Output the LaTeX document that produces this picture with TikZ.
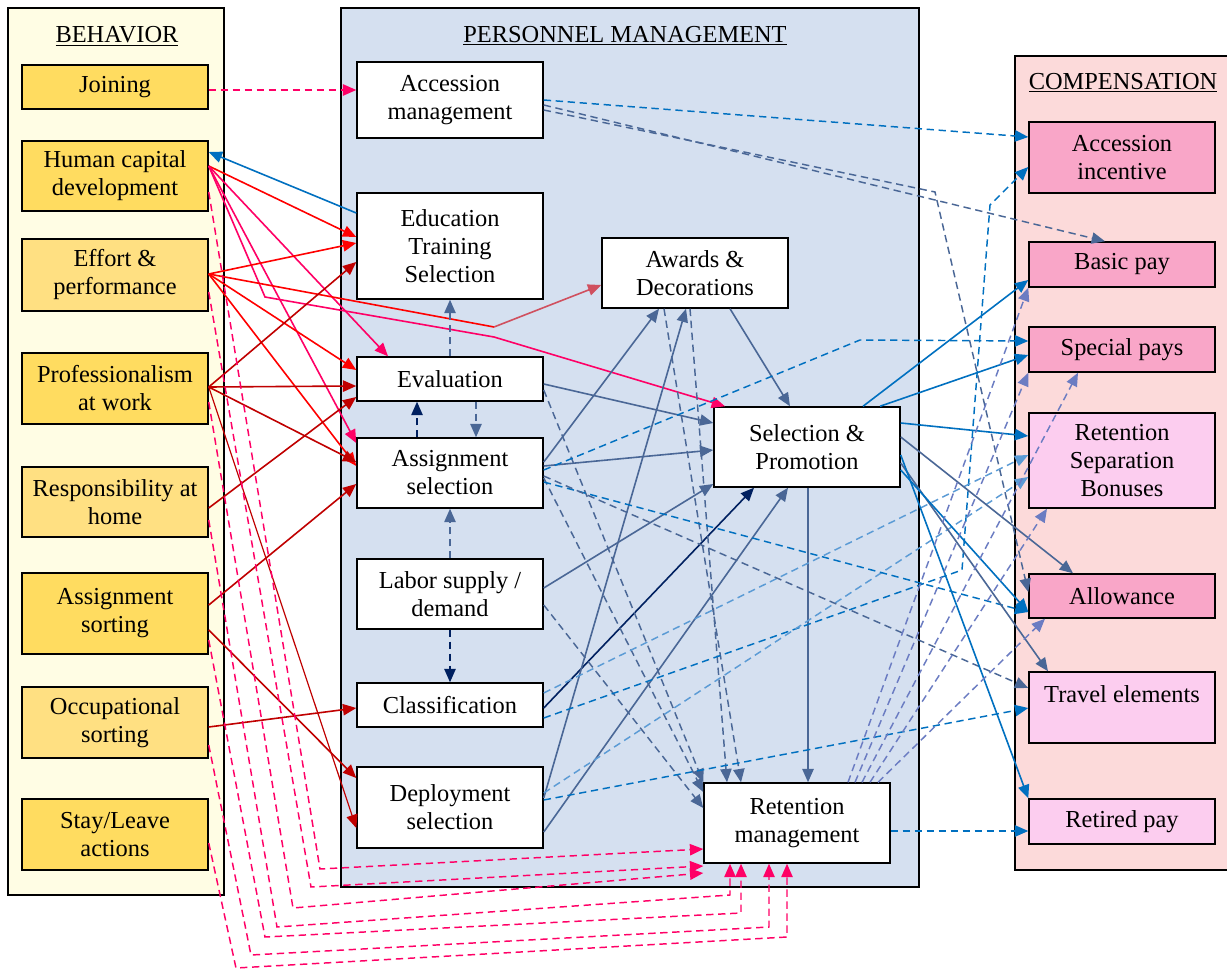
\documentclass[tikz,border=0pt]{standalone}
\usepackage{fontspec}
\setmainfont{Liberation Serif}
\usetikzlibrary{arrows.meta,calc}

\definecolor{behfill}{HTML}{FFFDE4}
\definecolor{goldA}{HTML}{FFDC60}
\definecolor{goldB}{HTML}{FFE082}
\definecolor{perfill}{HTML}{D5E0F0}
\definecolor{compfill}{HTML}{FCDADA}
\definecolor{pinkA}{HTML}{F9A6C8}
\definecolor{pinkB}{HTML}{FCCDEF}
\definecolor{magentaA}{HTML}{FF0066}
\definecolor{redA}{HTML}{FF0000}
\definecolor{redB}{HTML}{C00000}
\definecolor{roseA}{HTML}{D0505F}
\definecolor{blueA}{HTML}{0070C0}
\definecolor{steelA}{HTML}{4A6796}
\definecolor{navyA}{HTML}{002060}
\definecolor{lblueA}{HTML}{5B9BD5}
\definecolor{lavA}{HTML}{6B7CC2}

\tikzset{
  >={Triangle[length=10pt,width=8.5pt]},
  panel/.style={draw=black,line width=1.2pt},
  box/.style={draw=black,line width=1.1pt,align=center,inner sep=0pt,
    minimum width=139.5pt,font=\fontsize{18.3}{21}\selectfont},
  ttl/.style={font=\fontsize{18.3}{21}\selectfont},
  con/.style={line width=1.2pt,->},
  thin/.style={line width=0.9pt,->},
  dsh/.style={line width=1.1pt,->,dash pattern=on 5.5pt off 3.5pt},
}

\begin{document}
\begin{tikzpicture}[x=0.75pt,y=-0.75pt]
\useasboundingbox (0,0) rectangle (1227,970);

% ---------- panels ----------
\fill[white] (0,0) rectangle (1227,970);
\draw[panel,fill=behfill] (8,8) rectangle (224,895);
\draw[panel,fill=perfill] (341,8) rectangle (919,887);
\draw[panel,fill=compfill] (1015,56) rectangle (1232,870);

\node[ttl] (tbeh) at (117,36) {\underline{BEHAVIOR}};
\node[ttl] (tper) at (625,36) {\underline{PERSONNEL MANAGEMENT}};
\node[ttl] (tcomp) at (1123,83) {\underline{COMPENSATION}};

% ---------- behavior ----------
\node[box,fill=goldA,minimum height=33pt]    (join)  at (115,87)    {Joining};
\node[box,fill=goldA,minimum height=52.5pt]  (hcd)   at (115,176)   {Human capital\\development};
\node[box,fill=goldB,minimum height=54pt]    (eff)   at (115,275)   {Effort \&\\performance};
\node[box,fill=goldA,minimum height=53.25pt] (prof)  at (115,388.5) {Professionalism\\at work};
\node[box,fill=goldB,minimum height=52.5pt]  (resp)  at (115,502)   {Responsibility at\\home};
\node[box,fill=goldA,minimum height=60.75pt] (asort) at (115,613.5) {Assignment\\sorting};
\node[box,fill=goldB,minimum height=53.25pt] (occ)   at (115,722.5) {Occupational\\sorting};
\node[box,fill=goldA,minimum height=53.25pt] (stay)  at (115,834.5) {Stay/Leave\\actions};

% ---------- personnel management ----------
\node[box,fill=white,minimum height=57pt]    (accm)  at (450,100)   {Accession\\management};
\node[box,fill=white,minimum height=79.5pt]  (edu)   at (450,246)   {Education\\Training\\Selection};
\node[box,fill=white,minimum height=52.5pt]  (awd)   at (695,273)   {Awards \&\\Decorations};
\node[box,fill=white,minimum height=33pt]    (eval)  at (450,379)   {Evaluation};
\node[box,fill=white,minimum height=52.5pt]  (asel)  at (450,473)   {Assignment\\selection};
\node[box,fill=white,minimum height=60pt]    (selp)  at (807,447)   {Selection \&\\Promotion};
\node[box,fill=white,minimum height=52.5pt]  (labor) at (450,594)   {Labor supply /\\demand};
\node[box,fill=white,minimum height=33pt]    (cls)   at (450,705)   {Classification};
\node[box,fill=white,minimum height=60.75pt] (dep)   at (450,807.5) {Deployment\\selection};
\node[box,fill=white,minimum height=60pt]    (ret)   at (797,823)   {Retention\\management};

% ---------- compensation ----------
\node[box,fill=pinkA,minimum height=53.25pt] (ainc)   at (1122,157.5) {Accession\\incentive};
\node[box,fill=pinkA,minimum height=33.75pt] (bpay)   at (1122,264.5) {Basic pay};
\node[box,fill=pinkA,minimum height=33.75pt] (spay)   at (1122,349.5) {Special pays};
\node[box,fill=pinkB,minimum height=71.25pt] (rsb)    at (1122,460.5) {Retention\\Separation\\Bonuses};
\node[box,fill=pinkA,minimum height=33pt]    (allow)  at (1122,596)   {Allowance};
\node[box,fill=pinkB,minimum height=53.25pt] (travel) at (1122,707.5) {};
\node[ttl,anchor=north,yshift=-5pt] (traveltxt) at (travel.north) {\strut Travel elements};
\node[box,fill=pinkB,minimum height=33.75pt] (rpay)   at (1122,821.5) {Retired pay};

% ---------- behavior -> personnel ----------
\draw[dsh,magentaA] (join.east |- 0,90) -- (accm.west |- 0,90);
\draw[con,blueA] (edu.west |- 0,213) -- (hcd.east |- 0,152);
\draw[con,redA] (hcd.east |- 0,166) -- (edu.west |- 0,237);
\draw[con,magentaA] (hcd.east |- 0,166) -- (eval.north -| 388,0);
\draw[con,magentaA] (hcd.east |- 0,166) -- (asel.west |- 0,443);
\coordinate (hk1) at (265,297);
\coordinate (hk2) at (494,337);
\draw[con,magentaA] (hcd.east |- 0,166) -- (hk1) -- (hk2) -- (selp.north -| 725,0);

\draw[con,redA] (eff.east |- 0,274) -- (edu.west |- 0,243);
\coordinate (ek) at (494,327);
\draw[line width=1.2pt,redA] (eff.east |- 0,274) -- (ek);
\draw[con,roseA] (ek) -- (awd.west |- 0,285);
\draw[con,redA] (eff.east |- 0,274) -- (eval.west |- 0,370);
\draw[con,redA] (eff.east |- 0,274) -- (asel.west |- 0,466);

\draw[con,redB] (prof.east |- 0,387) -- (edu.west |- 0,262);
\draw[con,redB] (prof.east |- 0,387) -- (eval.west |- 0,386);
\draw[con,redB] (prof.east |- 0,387) -- (asel.west |- 0,462);
\draw[thin,redB] (prof.east |- 0,387) -- (dep.west |- 0,828);
\draw[con,redB] (resp.east |- 0,508) -- (eval.west |- 0,397);
\draw[con,redB] (asort.east |- 0,605) -- (asel.west |- 0,484);
\draw[con,redB] (asort.east |- 0,630) -- (dep.west |- 0,778);
\draw[con,redB] (occ.east |- 0,727) -- (cls.west |- 0,708);

% ---------- behavior -> retention (nested dashed loops) ----------
\draw[dsh,magentaA] (hcd.east |- 0,192) -- (320,869) -- (ret.west |- 0,849);
\draw[dsh,magentaA] (eff.east |- 0,292) -- (311,887) -- (ret.west |- 0,866);
\draw[dsh,magentaA] (prof.east |- 0,402) -- (293,908) -- (ret.west |- 0,873);
\draw[dsh,magentaA] (resp.east |- 0,520) -- (277,927) -- (730,895) -- (ret.south -| 730,0);
\draw[dsh,magentaA] (asort.east |- 0,640) -- (265,937) -- (741,913) -- (ret.south -| 741,0);
\draw[dsh,magentaA] (occ.east |- 0,745) -- (251,955) -- (769,927) -- (ret.south -| 769,0);
\draw[dsh,magentaA] (stay.east |- 0,843) -- (236,968) -- (787,937) -- (ret.south -| 787,0);

% ---------- inside personnel management ----------
\draw[dsh,steelA] (eval.north) -- (edu.south);
\draw[dsh,navyA] (asel.north -| 417,0) -- (eval.south -| 417,0);
\draw[dsh,steelA] (eval.south -| 476,0) -- (asel.north -| 476,0);
\draw[dsh,steelA] (labor.north) -- (asel.south);
\draw[dsh,navyA] (labor.south) -- (cls.north);

\draw[con,steelA] (eval.east |- 0,384) -- (selp.west |- 0,423);
\draw[con,steelA] (asel.east |- 0,466) -- (selp.west |- 0,450);
\draw[con,steelA] (labor.east |- 0,588) -- (selp.west |- 0,484);
\draw[con,navyA] (cls.east |- 0,708) -- (selp.south -| 754,0);
\draw[con,steelA] (dep.east |- 0,832) -- (selp.south -| 788,0);
\draw[con,steelA] (asel.east |- 0,462) -- (awd.south -| 659,0);
\draw[con,steelA] (dep.east |- 0,798) -- (awd.south -| 686,0);
\draw[con,steelA] (awd.south -| 730,0) -- (selp.north -| 790,0);
\draw[con,steelA] (selp.south -| 808,0) -- (ret.north -| 808,0);

\draw[dsh,steelA] (eval.east |- 0,390) -- (ret.north west);
\draw[dsh,steelA] (awd.south -| 664,0) -- (ret.north -| 741,0);
\draw[dsh,steelA] (awd.south -| 690,0) -- (ret.north -| 727,0);
\draw[dsh,steelA] (asel.east |- 0,478) -- (ret.west |- 0,792);
\draw[dsh,steelA] (labor.east |- 0,605) -- (ret.west |- 0,808);

% ---------- personnel -> compensation ----------
\draw[dsh,blueA] (accm.east |- 0,100) -- (ainc.west |- 0,137);
\draw[dsh,steelA] (accm.east |- 0,105) -- (bpay.north -| 1105,0);
\coordinate (ak) at (935,192);
\draw[dsh,steelA] (accm.east |- 0,110) -- (ak) -- (allow.west |- 0,592);

\coordinate (ck1) at (962,570);
\coordinate (ck2) at (990,205);
\draw[dsh,blueA] (cls.east |- 0,718) -- (ck1) -- (ck2) -- (ainc.west |- 0,167);
\draw[dsh,lblueA] (cls.east |- 0,693) -- (rsb.west |- 0,455);
\draw[dsh,lblueA] (dep.east |- 0,793) -- (rsb.west |- 0,477);
\draw[dsh,blueA] (dep.east |- 0,800) -- (travel.west |- 0,708);
\coordinate (sk) at (860,340);
\draw[dsh,blueA] (asel.east |- 0,470) -- (sk) -- (spay.west |- 0,341);
\draw[dsh,blueA] (asel.east |- 0,482) -- (allow.west |- 0,612);
\draw[dsh,steelA] (asel.east |- 0,476) -- (travel.west |- 0,688);

\draw[con,blueA] (selp.north -| 863,0) -- (bpay.west |- 0,280);
\draw[con,blueA] (selp.north -| 880,0) -- (spay.west |- 0,355);
\draw[con,blueA] (selp.east |- 0,423) -- (rsb.west |- 0,436);
\draw[con,steelA] (selp.east |- 0,437) -- (allow.north -| 1073,0);
\draw[con,steelA] (selp.east |- 0,463) -- (travel.north -| 1048,0);
\draw[con,blueA] (selp.east |- 0,470) -- (allow.west |- 0,612);
\draw[con,blueA] (selp.east |- 0,455) -- (rpay.north west);

\draw[dsh,lavA] (ret.north -| 848,0) -- (bpay.south west);
\draw[dsh,lavA] (ret.north -| 855,0) -- (spay.south west);
\draw[dsh,lavA] (ret.north -| 862,0) -- (spay.south -| 1078,0);
\draw[dsh,lavA] (ret.north -| 870,0) -- (rsb.south -| 1047,0);
\draw[dsh,lavA] (ret.north -| 878,0) -- (allow.south -| 1045,0);
\draw[dsh,blueA] (ret.east |- 0,831) -- (rpay.west |- 0,831);
\end{tikzpicture}
\end{document}
